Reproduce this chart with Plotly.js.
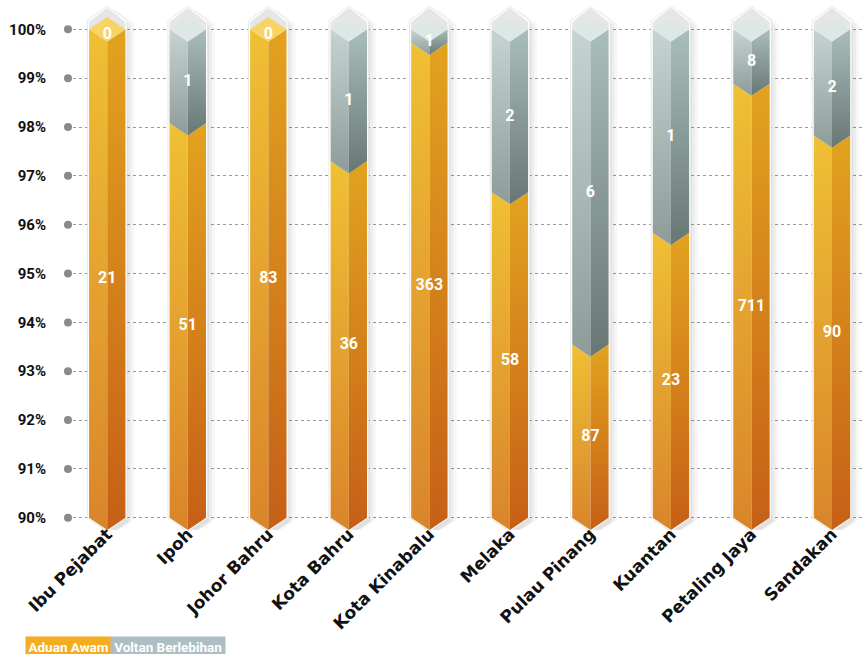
<!DOCTYPE html>
<html><head><meta charset="utf-8">
<script src="https://cdn.plot.ly/plotly-3.0.1.min.js"></script>
<style>html,body{margin:0;padding:0;background:#fff;} #chart{width:863px;height:654px;}</style>
</head><body><div id="chart"></div>
<script>
// ---- data ----
const categories = ['Ibu Pejabat','Ipoh','Johor Bahru','Kota Bahru','Kota Kinabalu','Melaka','Pulau Pinang','Kuantan','Petaling Jaya','Sandakan'];
const aduanAwam = [21, 51, 83, 36, 363, 58, 87, 23, 711, 90];
const voltanBerlebihan = [0, 1, 0, 1, 1, 2, 6, 1, 8, 2];
const seriesNames = ['Aduan Awam', 'Voltan Berlebihan'];
const yTickValues = [90, 91, 92, 93, 94, 95, 96, 97, 98, 99, 100];
const yTickLabels = yTickValues.map(v => v + '%');

// ---- style ----
const HW = 0.226, DV = 0.25, BASE = 90, TOP = 100;
const RIM_S = 0.15, RIM_P = 0.44;
const PXX = 80.56, PXY = 48.8;
const colors = {
  oL: ['#D9852B', '#EFC034'], oR: ['#C65F17', '#E2A31F'],
  gL: ['#8E9C99', '#C5D4D2'], gR: ['#687774', '#A9BEBB'],
  capG: '#DCE7E6', capO: '#F6D566', rim: '#E6E6E6'
};
const FONT = 'Roboto, "DejaVu Sans", sans-serif';
const LABEL_FONT = '"DejaVu Sans", sans-serif';

const traces = [];
function poly(xs, ys, opts) {
  traces.push(Object.assign({type: 'scatter', mode: 'lines', x: xs, y: ys, fill: 'toself',
    hoverinfo: 'skip', showlegend: false, line: {width: 0}, cliponaxis: false}, opts));
}
function grad(c) {
  return {fillcolor: c[1], fillgradient: {type: 'vertical', colorscale: [[0, c[0]], [1, c[1]]]}};
}

const textX = [], textY = [], textS = [];
categories.forEach((cat, i) => {
  const total = aduanAwam[i] + voltanBerlebihan[i];
  const a = aduanAwam[i] / total * 100;
  const L = i - HW, C = i, R = i + HW;
  // silhouette
  const sx = [L, C, R, R, C, L, L];
  const sy = [BASE, BASE - DV, BASE, TOP + RIM_S, TOP + RIM_P, TOP + RIM_S, BASE];
  // soft shadow
  [[3, 4, 0.05], [6, 3, 0.04], [9, 2, 0.03]].forEach(([dx, dy, op]) => {
    poly(sx.map(v => v + dx / PXX), sy.map(v => v - dy / PXY), {fillcolor: 'rgba(0,0,0,' + op + ')'});
  });
  // white outline
  const ex = 1.6 / PXX, ey = 1.6 / PXY;
  poly([L - ex, C, R + ex, R + ex, C, L - ex, L - ex],
       [BASE, BASE - DV - ey, BASE, TOP + RIM_S + ey, TOP + RIM_P + ey, TOP + RIM_S + ey, BASE],
       {fillcolor: '#FFFFFF', line: {width: 0.8, color: '#E2E2E2'}});
  // rim
  poly([L, L, C, R, R, L], [TOP, TOP + RIM_S, TOP + RIM_P, TOP + RIM_S, TOP, TOP], {fillcolor: colors.rim});
  // aduan awam faces
  poly([L, C, C, L, L], [BASE, BASE - DV, a - DV, a, BASE], grad(colors.oL));
  poly([C, R, R, C, C], [BASE - DV, BASE, a, a - DV, BASE - DV], grad(colors.oR));
  textX.push(i); textY.push((BASE + a) / 2 - 0.12); textS.push(String(aduanAwam[i]));
  // voltan berlebihan faces
  if (voltanBerlebihan[i] > 0) {
    poly([L, C, C, L, L], [a, a - DV, TOP - DV, TOP, a], grad(colors.gL));
    poly([C, R, R, C, C], [a - DV, a, TOP, TOP - DV, a - DV], grad(colors.gR));
  }
  textX.push(i); textY.push((a + TOP) / 2 - 0.12); textS.push(String(voltanBerlebihan[i]));
  // top face
  poly([L, C, R, C, L], [TOP, TOP + DV, TOP, TOP - DV, TOP],
       {fillcolor: voltanBerlebihan[i] > 0 ? colors.capG : colors.capO});
});

// value labels
traces.push({type: 'scatter', mode: 'text', x: textX, y: textY, text: textS, hoverinfo: 'skip',
  showlegend: false, cliponaxis: false,
  textfont: {family: FONT, size: 16, color: '#FFFFFF', weight: 'bold'}});
// axis dots
traces.push({type: 'scatter', mode: 'markers', x: yTickValues.map(() => -0.488), y: yTickValues,
  hoverinfo: 'skip', showlegend: false, cliponaxis: false,
  marker: {size: 8, color: '#8A8A8A'}});

const legendFont = {family: 'Roboto, sans-serif', size: 13.5, color: '#FFFFFF', weight: 'bold'};
const layout = {
  width: 863, height: 654,
  margin: {l: 67, r: 0, t: 0, b: 124},
  paper_bgcolor: '#FFFFFF', plot_bgcolor: '#FFFFFF',
  showlegend: false,
  xaxis: {type: 'linear', range: [-0.5, 9.385], tickvals: categories.map((c, i) => i), ticktext: categories,
    tickangle: -45, showgrid: false, zeroline: false, showline: false, ticks: '',
    ticklabelstandoff: -10,
    tickfont: {family: LABEL_FONT, size: 17, color: '#111111', weight: 'bold'}},
  yaxis: {range: [89.75, 100.6], tickvals: yTickValues, ticktext: yTickLabels,
    showgrid: true, gridcolor: '#9A9A9A', griddash: 'dot', gridwidth: 1, zeroline: false, showline: false,
    ticks: 'outside', ticklen: 17, tickcolor: 'rgba(0,0,0,0)',
    tickfont: {family: FONT, size: 15, color: '#111111', weight: 'bold'}},
  annotations: [
    {xref: 'paper', yref: 'paper', x: (25 - 67) / 796, y: (530 - 636) / 530, xanchor: 'left', yanchor: 'top',
     text: seriesNames[0], showarrow: false, bgcolor: '#F5AC1F', width: 85, height: 20, borderpad: 0, align: 'center',
     font: legendFont},
    {xref: 'paper', yref: 'paper', x: (110 - 67) / 796, y: (530 - 636) / 530, xanchor: 'left', yanchor: 'top',
     text: seriesNames[1], showarrow: false, bgcolor: '#AEBFC4', width: 114, height: 20, borderpad: 0, align: 'center',
     font: legendFont}
  ]
};

Plotly.newPlot('chart', traces, layout, {displayModeBar: false, staticPlot: true});
</script>
</body></html>
